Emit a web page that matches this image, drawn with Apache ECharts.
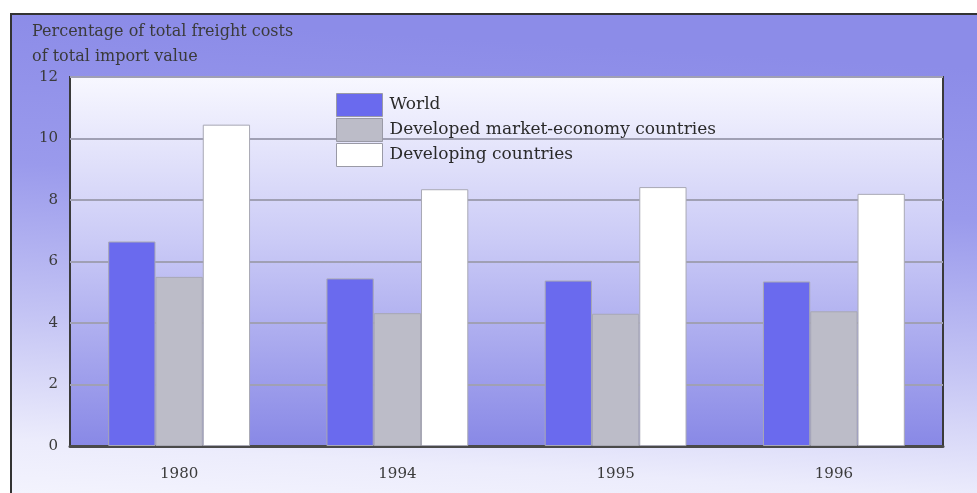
<!DOCTYPE html>
<html>
<head>
<meta charset="utf-8">
<script src="https://cdn.jsdelivr.net/npm/echarts@6/dist/echarts.min.js"></script>
<style>
  html, body { margin: 0; padding: 0; background: #ffffff; }
  #chart { width: 977px; height: 493px; }
</style>
</head>
<body>
<div id="chart"></div>
<script>
// 数据
const years = ['1980', '1994', '1995', '1996'];
const world = [6.65, 5.45, 5.38, 5.35];
const developed = [5.5, 4.32, 4.3, 4.38];
const developing = [10.45, 8.35, 8.42, 8.2];
const yTicks = [0, 2, 4, 6, 8, 10, 12];

const serif = '"DejaVu Serif", "Liberation Serif", serif';

const chart = echarts.init(document.getElementById('chart'));

function barSeries(name, data, color) {
    return {
        name: name,
        type: 'bar',
        data: data,
        barGap: 0,
        barCategoryGap: '35%',
        itemStyle: { color: color, borderColor: '#a8a8b4', borderWidth: 1 }
    };
}

const option = {
    animation: false,
    backgroundColor: '#ffffff',
    graphic: [
        {
            type: 'rect',
            z: -10,
            shape: { x: 11, y: 14, width: 990, height: 500 },
            style: {
                fill: new echarts.graphic.LinearGradient(0.03, 0, 0, 1, [
                    { offset: 0, color: '#8c8ce8' },
                    { offset: 0.3, color: '#9a9aec' },
                    { offset: 0.6, color: '#c4c4f4' },
                    { offset: 0.85, color: '#ececfc' },
                    { offset: 1, color: '#f6f6fe' }
                ]),
                stroke: '#333333',
                lineWidth: 2
            }
        },
        {
            type: 'text',
            left: 32,
            top: 19,
            style: {
                text: 'Percentage of total freight costs\nof total import value',
                font: '16px ' + serif,
                fill: '#3a3a3a',
                lineHeight: 25
            }
        }
    ],
    legend: {
        orient: 'vertical',
        left: 331,
        top: 88,
        icon: 'rect',
        itemWidth: 46,
        itemHeight: 23,
        itemGap: 1,
        selectedMode: false,
        itemStyle: { borderColor: '#9a9aa6', borderWidth: 1 },
        textStyle: { fontFamily: serif, fontSize: 17, lineHeight: 22, color: '#2a2a2a', padding: [0, 0, 0, 2] },
        data: ['World', 'Developed market-economy countries', 'Developing countries']
    },
    grid: {
        left: 70,
        top: 77,
        right: 34,
        bottom: 47,
        show: true,
        borderColor: '#3a3a3a',
        borderWidth: 2,
        backgroundColor: new echarts.graphic.LinearGradient(0, 0, 0, 1, [
            { offset: 0, color: '#f8f8ff' },
            { offset: 0.45, color: '#cacaf6' },
            { offset: 1, color: '#8888e6' }
        ])
    },
    xAxis: {
        type: 'category',
        data: years,
        axisTick: { show: false },
        axisLine: { lineStyle: { color: '#4a4a4a', width: 3 } },
        axisLabel: { fontFamily: serif, fontSize: 15, color: '#3a3a3a', margin: 21 }
    },
    yAxis: {
        type: 'value',
        min: yTicks[0],
        max: yTicks[yTicks.length - 1],
        interval: 2,
        axisLine: { show: false },
        axisTick: { show: false },
        axisLabel: { fontFamily: serif, fontSize: 15, color: '#3a3a3a', margin: 12 },
        splitLine: { lineStyle: { color: '#a0a0b4', width: 2 } }
    },
    series: [
        barSeries('World', world, '#6a6aee'),
        barSeries('Developed market-economy countries', developed, '#bcbcc8'),
        barSeries('Developing countries', developing, '#ffffff')
    ]
};

chart.setOption(option);
</script>
</body>
</html>
